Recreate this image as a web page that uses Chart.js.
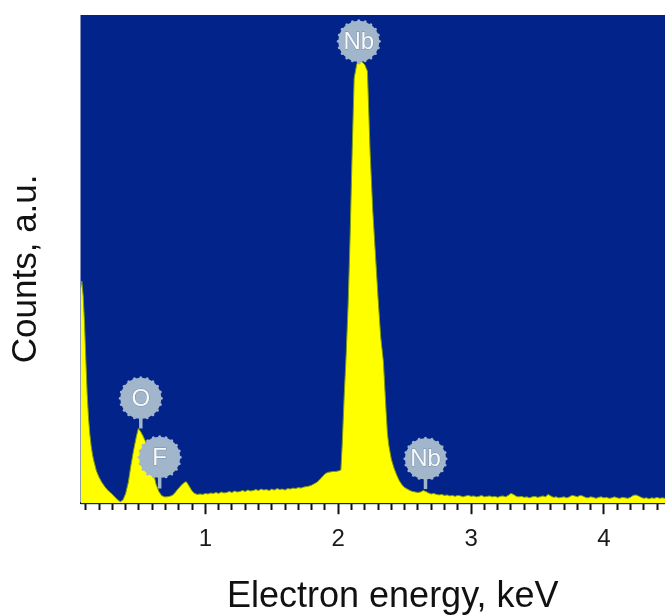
<!DOCTYPE html>
<html>
<head>
<meta charset="utf-8">
<script src="https://cdn.jsdelivr.net/npm/chart.js@4.4.1/dist/chart.umd.min.js"></script>
<style>
  html, body { margin: 0; padding: 0; background: #ffffff; }
  canvas { display: block; }
</style>
</head>
<body>
<canvas id="c" width="665" height="615"></canvas>
<script>
// Energy axis (keV) and counts (a.u.)
const energy = [
  0.06,0.07,0.08,0.09,0.10,0.11,0.12,0.13,0.14,0.15,0.16,0.18,0.20,0.22,0.24,0.26,0.28,0.30,0.32,0.34,0.36,0.38,
  0.40,0.42,0.44,0.46,0.48,0.495,0.51,0.53,0.55,0.57,0.59,0.61,0.63,0.65,0.67,0.69,0.71,0.73,0.75,0.77,0.79,
  0.81,0.83,0.85,0.86,0.88,0.90,0.92,0.94,0.96,0.98,
  1.00,1.02,1.04,1.06,1.08,1.10,1.12,1.14,1.16,1.18,1.20,1.22,1.24,1.26,1.28,1.30,1.32,1.34,1.36,1.38,
  1.40,1.42,1.44,1.46,1.48,1.50,1.52,1.54,1.56,1.58,1.60,1.62,1.64,1.66,1.68,1.70,1.72,1.74,1.76,1.78,
  1.80,1.82,1.84,1.86,1.88,1.90,1.92,1.94,1.96,1.98,2.00,2.02,
  2.03,2.045,2.06,2.075,2.09,2.105,2.12,2.14,2.16,2.18,2.20,2.22,2.24,2.26,2.28,2.30,2.32,2.34,2.36,2.37,2.38,
  2.40,2.42,2.44,2.46,2.48,2.50,2.52,2.54,2.56,2.58,2.60,2.62,2.64,2.66,2.68,2.70,2.72,2.74,2.76,2.78,
  2.80,2.82,2.84,2.86,2.88,2.90,2.92,2.94,2.96,2.98,3.00,3.02,3.04,3.06,3.08,3.10,3.12,3.14,3.16,3.18,
  3.20,3.22,3.24,3.26,3.28,3.30,3.32,3.34,3.36,3.38,3.40,3.42,3.44,3.46,3.48,3.50,3.52,3.54,3.56,3.58,
  3.60,3.62,3.64,3.66,3.68,3.70,3.72,3.74,3.76,3.78,3.80,3.82,3.84,3.86,3.88,3.90,3.92,3.94,3.96,3.98,
  4.00,4.02,4.04,4.06,4.08,4.10,4.12,4.14,4.16,4.18,4.20,4.22,4.24,4.26,4.28,4.30,4.32,4.34,4.36,4.38,
  4.40,4.42,4.44,4.46
];
const counts = [
  44.0,45.5,42.5,37.0,29.5,22.5,17.6,14.2,11.8,10.0,8.7,6.6,5.3,4.3,3.5,2.8,2.3,1.8,1.2,0.7,0.3,0.7,
  2.0,4.3,7.8,10.9,13.6,15.3,14.8,13.8,12.6,10.8,8.6,6.0,3.8,2.4,1.6,1.3,1.3,1.4,1.6,2.1,2.8,
  3.4,4.0,4.4,4.3,3.4,2.5,2.0,1.8,1.9,1.8,
  2.0,1.9,2.1,2.0,2.2,2.0,2.3,2.1,2.2,2.4,2.2,2.5,2.3,2.4,2.6,2.4,2.7,2.5,2.6,2.8,
  2.6,2.9,2.7,2.8,2.6,2.9,2.7,3.0,2.8,2.9,2.7,3.0,2.9,3.1,3.0,3.2,3.1,3.3,3.4,3.5,
  3.7,4.0,4.3,4.8,5.4,6.0,6.3,6.4,6.5,6.5,6.6,6.8,
  12.0,22.0,30.5,41.0,55.0,72.0,87.0,90.0,90.6,90.4,89.8,88.5,72.0,60.0,51.0,42.0,34.0,29.0,19.0,14.5,12.0,
  9.0,7.2,5.8,4.6,3.8,3.2,2.9,2.6,2.4,2.3,2.2,2.3,2.6,2.4,2.1,1.9,2.0,1.8,1.7,1.8,
  1.6,1.7,1.5,1.6,1.4,1.6,1.5,1.3,1.5,1.6,1.4,1.5,1.3,1.4,1.6,1.3,1.4,1.5,1.3,1.4,
  1.2,1.4,1.5,1.3,1.6,2.0,1.8,1.4,1.3,1.4,1.2,1.3,1.1,1.3,1.4,1.2,1.3,1.5,1.3,1.8,
  1.5,1.2,1.3,1.1,1.2,1.3,1.1,1.3,1.6,1.5,1.3,1.6,1.5,1.2,1.1,1.3,1.2,1.0,1.2,1.3,
  1.1,1.2,1.0,1.1,1.3,1.1,1.0,1.2,1.1,1.0,1.2,1.6,1.7,1.5,1.2,1.0,1.1,0.9,1.1,1.0,
  1.2,1.0,1.1,1.0
];
// Axis tick labels (keV)
const majorTicks = [1, 2, 3, 4];
// Element marker annotations
const markerText = ['Nb', 'O', 'F', 'Nb'];
const markerEnergy = [2.155, 0.514, 0.656, 2.657];
const markerLevel = [94.6, 21.5, 9.4, 9.1];
const markerStemEnd = [89.9, 15.3, 3.0, 2.9];

const FONT = "'Liberation Sans', Arial, Helvetica, sans-serif";
const points = energy.map((e, i) => ({ x: e, y: counts[i] }));

const plotBg = {
  id: 'plotBg',
  beforeDatasetsDraw(chart) {
    const { ctx, chartArea: a } = chart;
    ctx.save();
    ctx.fillStyle = '#02238a';
    ctx.fillRect(a.left, a.top, a.right - a.left, a.bottom - a.top + 1);
    ctx.restore();
  }
};

const markers = {
  id: 'markers',
  afterDatasetsDraw(chart) {
    const { ctx } = chart;
    const xs = chart.scales.x, ys = chart.scales.y;
    ctx.save();
    markerText.forEach((t, i) => {
      const cx = xs.getPixelForValue(markerEnergy[i]);
      const cy = ys.getPixelForValue(markerLevel[i]);
      const sy = ys.getPixelForValue(markerStemEnd[i]);
      const r = 20.5;
      const col = '#a1b6ca';
      ctx.fillStyle = col;
      ctx.strokeStyle = col;
      ctx.lineWidth = 3.5;
      ctx.beginPath();
      ctx.moveTo(cx, cy);
      ctx.lineTo(cx, sy);
      ctx.stroke();
      ctx.beginPath();
      ctx.arc(cx, cy, r, 0, Math.PI * 2);
      ctx.fill();
      for (let k = 0; k < 20; k++) {
        const a = k * Math.PI * 2 / 20;
        ctx.beginPath();
        ctx.arc(cx + r * Math.cos(a), cy + r * Math.sin(a), 1.5, 0, Math.PI * 2);
        ctx.fill();
      }
      ctx.font = '24px ' + FONT;
      ctx.textAlign = 'center';
      ctx.textBaseline = 'middle';
      ctx.lineWidth = 1;
      ctx.strokeStyle = 'rgba(120,140,165,0.9)';
      ctx.strokeText(t, cx, cy + 1);
      ctx.fillStyle = '#f6f9fc';
      ctx.fillText(t, cx, cy + 1);
    });
    ctx.restore();
  }
};

const tickValues = [];
for (let i = 1; i <= 44; i++) tickValues.push(i / 10);
const isMajor = v => majorTicks.includes(Math.round(v * 10) / 10);

new Chart(document.getElementById('c'), {
  type: 'line',
  data: {
    datasets: [{
      data: points,
      fill: 'origin',
      backgroundColor: '#ffff00',
      borderColor: '#7e9a12',
      borderWidth: 1,
      pointRadius: 0,
      tension: 0
    }]
  },
  options: {
    responsive: false,
    devicePixelRatio: 1,
    animation: false,
    layout: { padding: { left: 0, right: 0, top: 15, bottom: 0 } },
    plugins: { legend: { display: false }, tooltip: { enabled: false } },
    scales: {
      x: {
        type: 'linear',
        min: 0.06,
        max: 4.46,
        afterBuildTicks: s => { s.ticks = tickValues.map(v => ({ value: v })); },
        afterFit: s => { s.paddingRight = 0; },
        ticks: {
          autoSkip: false,
          maxRotation: 0,
          minRotation: 0,
          padding: 11,
          color: '#1a1a1a',
          font: { family: FONT, size: 24 },
          callback: v => isMajor(v) ? String(Math.round(v)) : ''
        },
        grid: {
          drawOnChartArea: false,
          drawTicks: true,
          tickLength: 11,
          tickWidth: 2,
          tickColor: '#111111',
          tickBorderDash: c => (c.tick && isMajor(c.tick.value)) ? [] : [6, 30]
        },
        border: { display: true, color: '#111111', width: 2 },
        title: {
          display: true,
          text: '    Electron energy, keV',
          color: '#111111',
          font: { family: FONT, size: 36, lineHeight: 1 },
          padding: { top: 14, bottom: 0 }
        }
      },
      y: {
        min: 0,
        max: 100,
        ticks: { display: false },
        grid: { display: false, drawTicks: false },
        border: { display: false },
        title: {
          display: true,
          text: 'Counts, a.u.  ',
          color: '#111111',
          font: { family: FONT, size: 35, lineHeight: 1 },
          padding: { top: 8.5, bottom: 37 }
        }
      }
    }
  },
  plugins: [plotBg, markers]
});
</script>
</body>
</html>
